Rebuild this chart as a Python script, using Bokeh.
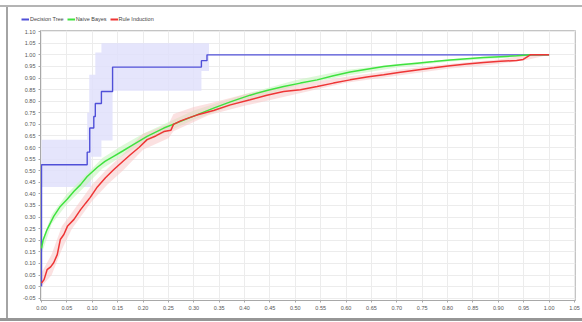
from bokeh.plotting import figure
from bokeh.models import (FixedTicker, NumeralTickFormatter, Legend, LegendItem,
                          Range1d, Spacer)
from bokeh.layouts import column, row
from bokeh.embed import file_html
from bokeh.resources import INLINE

# ROC curves (false positive rate vs. true positive rate) for three learners
dt_fpr = [0.0, 0.0, 0.090, 0.095, 0.103, 0.106, 0.118, 0.140, 0.315, 0.326, 1.0]
dt_tpr = [0.0, 0.526, 0.580, 0.684, 0.734, 0.790, 0.842, 0.947, 0.975, 1.0, 1.0]

dt_band_x = [0.0, 0.090, 0.094, 0.098, 0.106, 0.118, 0.140, 0.315, 0.330]
dt_band_lo = [0.43, 0.43, 0.43, 0.56, 0.56, 0.63, 0.845, 0.93, 1.0]
dt_band_hi = [0.634, 0.75, 0.914, 0.914, 1.01, 1.05, 1.05, 1.05, 1.0]

nb_fpr = [0.000, 0.003, 0.011, 0.024, 0.037, 0.051, 0.064, 0.077, 0.090, 0.110,
          0.125, 0.142, 0.160, 0.175, 0.208, 0.241, 0.274, 0.306, 0.339, 0.372,
          0.411, 0.444, 0.477, 0.510, 0.543, 0.575, 0.608, 0.641, 0.674, 0.707,
          0.740, 0.773, 0.805, 0.838, 0.871, 0.904, 0.936, 0.963, 1.0]
nb_tpr = [0.165, 0.200, 0.246, 0.303, 0.346, 0.378, 0.411, 0.440, 0.475, 0.515,
          0.540, 0.562, 0.585, 0.605, 0.648, 0.684, 0.713, 0.741, 0.770, 0.797,
          0.826, 0.846, 0.863, 0.878, 0.892, 0.910, 0.926, 0.938, 0.950, 0.957,
          0.964, 0.971, 0.978, 0.983, 0.988, 0.992, 0.996, 1.0, 1.0]

nb_band_x = [0.0, 0.02, 0.05, 0.08, 0.12, 0.16, 0.2, 0.3, 0.4, 0.5, 0.6, 0.7,
             0.8, 0.9, 0.96, 1.0]
nb_band_lo = [0.14, 0.27, 0.355, 0.42, 0.51, 0.565, 0.62, 0.72, 0.80, 0.865,
              0.91, 0.945, 0.97, 0.985, 0.995, 1.0]
nb_band_hi = [0.19, 0.31, 0.40, 0.465, 0.555, 0.61, 0.66, 0.76, 0.83, 0.89,
              0.935, 0.96, 0.98, 0.995, 1.0, 1.0]

ri_fpr = [0.000, 0.005, 0.011, 0.018, 0.024, 0.031, 0.037, 0.044, 0.051, 0.064,
          0.077, 0.087, 0.096, 0.110, 0.126, 0.142, 0.160, 0.175, 0.192, 0.208,
          0.225, 0.241, 0.255, 0.260, 0.274, 0.290, 0.306, 0.339, 0.372, 0.411,
          0.444, 0.477, 0.510, 0.543, 0.575, 0.608, 0.641, 0.674, 0.707, 0.740,
          0.773, 0.805, 0.838, 0.871, 0.904, 0.936, 0.949, 0.963, 1.0]
ri_tpr = [0.015, 0.030, 0.073, 0.085, 0.103, 0.138, 0.203, 0.225, 0.260, 0.290,
          0.332, 0.360, 0.385, 0.430, 0.470, 0.504, 0.540, 0.569, 0.600, 0.634,
          0.650, 0.669, 0.675, 0.700, 0.715, 0.728, 0.740, 0.760, 0.784, 0.806,
          0.826, 0.842, 0.849, 0.863, 0.878, 0.892, 0.904, 0.914, 0.925, 0.935,
          0.944, 0.953, 0.960, 0.967, 0.972, 0.976, 0.980, 1.0, 1.0]

ri_band_x = [0.0, 0.02, 0.04, 0.06, 0.08, 0.10, 0.13, 0.16, 0.20, 0.25, 0.26,
             0.30, 0.33, 0.40, 0.50, 0.60, 0.70, 0.80, 0.90, 0.96, 1.0]
ri_band_lo = [0.0, 0.05, 0.16, 0.25, 0.31, 0.37, 0.44, 0.50, 0.59, 0.64, 0.67,
              0.71, 0.74, 0.78, 0.83, 0.88, 0.91, 0.94, 0.96, 0.98, 1.0]
ri_band_hi = [0.06, 0.14, 0.26, 0.32, 0.38, 0.44, 0.51, 0.57, 0.66, 0.70, 0.745,
              0.775, 0.79, 0.83, 0.87, 0.905, 0.935, 0.96, 0.98, 1.0, 1.0]

series_names = ["Decision Tree", "Naive Bayes", "Rule Induction"]

x_ticks = [round(i * 0.05, 2) for i in range(0, 22)]
y_ticks = [round(-0.05 + i * 0.05, 2) for i in range(0, 24)]

FONT = "Liberation Sans"
BLUE, GREEN, RED = "#5050d8", "#3fe23f", "#ee3535"
COLORS = [BLUE, GREEN, RED]

# ---- main ROC chart -------------------------------------------------------
p = figure(width=574, height=291, output_backend="svg", toolbar_location=None,
           x_range=Range1d(-0.002, 1.052), y_range=Range1d(-0.06, 1.105),
           min_border_left=32, min_border_right=7, min_border_top=3,
           min_border_bottom=18)
p.frame_align = False
p.background_fill_color = "white"
p.border_fill_color = "white"
p.outline_line_color = "#c4c4c4"

# confidence bands
p.varea_step(x=dt_band_x, y1=dt_band_lo, y2=dt_band_hi, step_mode="after",
             fill_color="#e0e0fb", fill_alpha=0.85)
p.varea(x=nb_band_x, y1=nb_band_lo, y2=nb_band_hi, fill_color="#c8f5c0",
        fill_alpha=0.6)
p.varea(x=ri_band_x, y1=ri_band_lo, y2=ri_band_hi, fill_color="#f8c8c8",
        fill_alpha=0.55)

# curves
p.step(dt_fpr, dt_tpr, mode="after", line_color=BLUE, line_width=1.4)
p.line(nb_fpr, nb_tpr, line_color=GREEN, line_width=1.5)
p.line(ri_fpr, ri_tpr, line_color=RED, line_width=1.5)

for ax, ticks in ((p.xaxis, x_ticks), (p.yaxis, y_ticks)):
    ax.ticker = FixedTicker(ticks=ticks)
    ax.formatter = NumeralTickFormatter(format="0.00")
    ax.major_label_text_font = FONT
    ax.major_label_text_font_size = "5.5px"
    ax.major_label_text_color = "#555555"
    ax.axis_line_color = "#a8a8a8"
    ax.major_tick_line_color = "#a8a8a8"
    ax.major_tick_out = 2
    ax.major_tick_in = 0
    ax.minor_tick_line_color = None
    ax.major_label_standoff = 3

p.grid.grid_line_color = "#ececec"
p.xgrid.ticker = FixedTicker(ticks=x_ticks)
p.ygrid.ticker = FixedTicker(ticks=y_ticks)

# ---- legend strip above the chart ------------------------------------------
lg = figure(width=574, height=20, output_backend="svg", toolbar_location=None,
            x_range=Range1d(0, 574), y_range=Range1d(0, 20),
            x_axis_location=None, y_axis_location=None,
            min_border=0, outline_line_color=None)
lg.frame_align = False
lg.grid.visible = False
items = []
for name, color in zip(series_names, COLORS):
    # swatch renderers sit outside the strip's ranges; only their legend shows
    r = lg.line(x=[-50, -40], y=[-50, -50], line_color=color, line_width=2)
    items.append(LegendItem(label=name, renderers=[r]))
lg.add_layout(Legend(items=items, orientation="horizontal", location=(13, 5),
                     label_text_font=FONT, label_text_font_size="5.5px",
                     label_text_color="#444444", glyph_width=8, glyph_height=6,
                     label_standoff=1, spacing=3, padding=0, margin=0,
                     border_line_color=None, background_fill_alpha=0))


def bar(w, h, color):
    # plain grey strip used for the panel frame around the chart
    return Spacer(width=w, height=h, styles={"background-color": color})


page = column(
    Spacer(width=582, height=5),
    bar(582, 2, "#b4b4b4"),
    row(Spacer(width=6, height=311), bar(2, 311, "#a4a4a4"), column(lg, p)),
    bar(582, 3, "#969696"),
)

open("out.html", "w").write(file_html(page, INLINE))
